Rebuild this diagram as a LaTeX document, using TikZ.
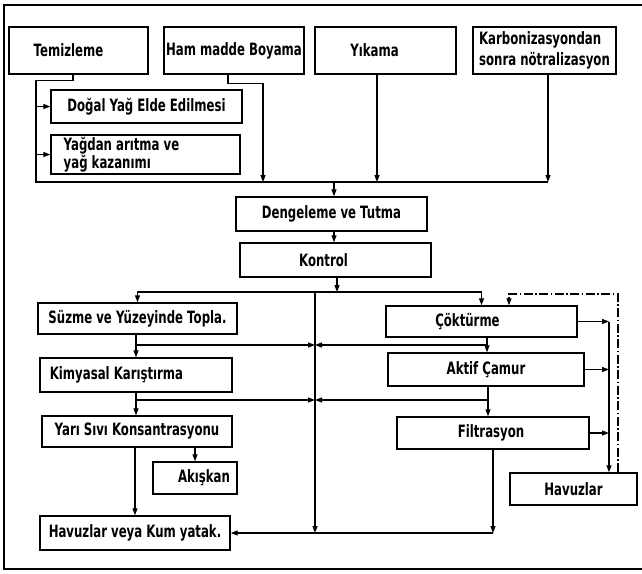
\documentclass[tikz,border=0pt]{standalone}
\usepackage{fontspec}
\setmainfont{DejaVu Sans}[FakeStretch=0.69]
\usetikzlibrary{arrows.meta}
\begin{document}
\begin{tikzpicture}[x=1pt,y=-1pt,
  box/.style={draw, line width=1.4pt, inner sep=0pt, font=\fontsize{17}{18}\selectfont\bfseries},
  ln/.style={line width=1.2pt},
  arr/.style={ln, -{Triangle[length=7pt,width=5pt]}},
  frame/.style={line width=1.8pt}
]
\useasboundingbox (0,0) rectangle (642,573);
\draw[frame] (642,5) -- (4,5) -- (4,569) -- (642,569);

% boxes
\node[box, minimum width=139pt, minimum height=47pt] (tem) at (78.5,50.5) {Temizleme\rule{20pt}{0pt}};
\node[box, minimum width=140pt, minimum height=47pt] (ham) at (234,50.5) {Ham madde Boyama};
\node[box, minimum width=141pt, minimum height=47pt] (yik) at (385.5,50.5) {Yıkama\rule{22pt}{0pt}};
\node[box, minimum width=143pt, minimum height=47pt, align=left, font=\fontsize{17}{21}\selectfont\bfseries] (kar) at (544.5,50.5) {Karbonizasyondan\\sonra nötralizasyon};
\node[box, minimum width=191pt, minimum height=33pt] (dog) at (146.5,106.5) {Doğal Yağ Elde Edilmesi};
\node[box, minimum width=189pt, minimum height=39pt, align=left, font=\fontsize{17}{16}\selectfont\bfseries] (yag) at (145.5,154.5) {Yağdan arıtma ve\rule{48pt}{0pt}\\yağ kazanımı};
\node[box, minimum width=191pt, minimum height=34pt] (den) at (331.5,214) {Dengeleme ve Tutma};
\node[box, minimum width=191pt, minimum height=34pt] (kon) at (335.5,260) {Kontrol\rule{24pt}{0pt}};
\node[box, minimum width=199pt, minimum height=31pt] (suz) at (137.5,318.5) {Süzme ve Yüzeyinde Topla.};
\node[box, minimum width=191pt, minimum height=31pt] (cok) at (481.5,321.5) {Çöktürme\rule{28pt}{0pt}};
\node[box, minimum width=196pt, minimum height=33pt] (akt) at (486,369.5) {Aktif Çamur};
\node[box, minimum width=192pt, minimum height=32pt] (fil) at (493,433) {Filtrasyon\rule{4pt}{0pt}};
\node[box, minimum width=127pt, minimum height=32pt] (hav) at (573.5,489) {Havuzlar};
\node[box, minimum width=192pt, minimum height=34pt] (kim) at (136,375) {Kimyasal Karıştırma\rule{39pt}{0pt}};
\node[box, minimum width=190pt, minimum height=31pt] (yar) at (137,431.5) {Yarı Sıvı Konsantrasyonu};
\node[box, minimum width=84pt, minimum height=32pt] (akk) at (195,478) {\rule{18pt}{0pt}Akışkan};
\node[box, minimum width=190pt, minimum height=34pt] (hvk) at (135,533) {Havuzlar veya Kum yatak.};

% top collector
\coordinate (busL) at (36,182);
\coordinate (busR) at (548,182);
\coordinate (bh) at (263,182);
\coordinate (by) at (377,182);
\coordinate (bd) at (334,182);
\draw[ln] ([xshift=-5.5pt]tem.south) -- ++(0,6) -| (busL) -- (busR);
\draw[arr] (busL |- dog.west) -- (dog.west);
\draw[arr] (busL |- yag.west) -- (yag.west);
\draw[arr] ([xshift=-6pt]ham.south) -- ++(0,9) -| (bh);
\draw[arr] ([xshift=-8.5pt]yik.south) -- (by);
\draw[arr] ([xshift=3.5pt]kar.south) -- (busR);
\draw[arr] (bd) -- ([xshift=2.5pt]den.north);
\draw[arr] ([xshift=2.5pt]den.south) -- ([xshift=-1.5pt]kon.north);

% distribution
\coordinate (dM) at (337,292);
\draw[arr] ([xshift=1.5pt]kon.south) -- (dM);
\draw[arr] (dM) -| (suz.north);
\draw[arr] (dM) -| (cok.north);

% trunk and bottom
\coordinate (tT) at (315,292);
\coordinate (tB) at (315,533);
\coordinate (fB) at (493,533);
\draw[arr] (tT) -- (tB);
\draw[arr] (fil.south) -- (fB);
\draw[arr] (fB) -- (hvk.east);

% first crossing
\coordinate (c1) at (315,345);
\coordinate (c1r) at (487,345);
\draw[arr] (suz.south -| kim.north) -- (kim.north);
\draw[arr] (kim.north |- c1) -- (c1);
\draw[arr] (c1r) -- (c1);
\draw[arr] (cok.south -| c1r) -- (akt.north -| c1r);

% second crossing
\coordinate (c2) at (315,400);
\coordinate (c2r) at (488,400);
\draw[arr] (kim.south) -- (kim.south |- yar.north);
\draw[arr] (kim.south |- c2) -- (c2);
\draw[arr] (c2r) -- (c2);
\draw[arr] (akt.south -| c2r) -- (fil.north -| c2r);

% lower left
\draw[arr] (yar.south -| hvk.north) -- (hvk.north);
\draw[arr] (yar.south -| akk.north) -- (akk.north);

% right side
\coordinate (r) at (609,322);
\draw[arr] (cok.east) -- (cok.east -| r);
\draw[arr] (akt.east) -- (akt.east -| r);
\draw[arr] (fil.east) -- (fil.east -| r);
\draw[arr] (r) -- (r |- hav.north);

% dash-dot return
\coordinate (q1) at (618,294);
\coordinate (q2) at (509,294);
\draw[arr, dash pattern=on 9pt off 2.5pt on 1.5pt off 2.5pt] (hav.north -| q1) -- (q1) -- (q2) -- (q2 |- cok.north);
\end{tikzpicture}
\end{document}
